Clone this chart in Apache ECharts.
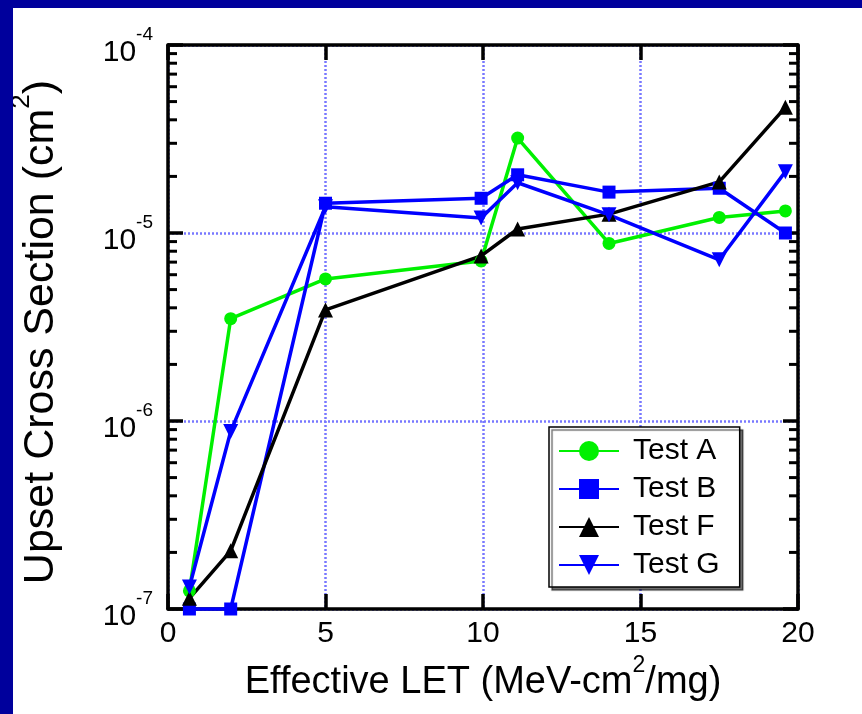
<!DOCTYPE html>
<html>
<head>
<meta charset="utf-8">
<script src="https://cdn.jsdelivr.net/npm/echarts@6/dist/echarts.min.js"></script>
<style>
  html, body { margin: 0; padding: 0; width: 862px; height: 714px; overflow: hidden; background: #00009c; }
  #chart { position: absolute; left: 13px; top: 8px; width: 849px; height: 706px; background: #fff; }
</style>
</head>
<body>
<div id="chart"></div>
<script>
// effective LET (MeV-cm2/mg)
const letValues = [0.68, 1.99, 5, 9.94, 11.1, 14, 17.5, 19.6]
// upset cross section (cm2)
const testA = [1.25e-7, 3.5e-6, 5.7e-6, 7.1e-6, 3.2e-5, 8.8e-6, 1.21e-5, 1.31e-5]
const testB = [1e-7, 1e-7, 1.44e-5, 1.53e-5, 2.04e-5, 1.65e-5, 1.73e-5, 1.0e-5]
const testF = [1.14e-7, 2.04e-7, 3.9e-6, 7.55e-6, 1.05e-5, 1.26e-5, 1.87e-5, 4.66e-5]
const testG = [1.31e-7, 8.8e-7, 1.38e-5, 1.2e-5, 1.85e-5, 1.25e-5, 7.2e-6, 2.12e-5]

const xTicks = [0, 5, 10, 15, 20]
const decades = [-7, -6, -5]
const minorMult = [2, 3, 4, 5, 6, 7, 8, 9]

const FONT = '"Liberation Sans", Arial, Helvetica, sans-serif'
const gridLine = { show: true, lineStyle: { color: '#7878ff', width: 2.5, type: [2, 2] } }

const pairs = ys => letValues.map((x, i) => [x, ys[i]])

const minorData = []
decades.forEach(d => minorMult.forEach(m => minorData.push([xTicks[0], m * Math.pow(10, d)])))

function minorTick(params, api) {
  const l = api.coord([xTicks[0], api.value(1)])
  const r = api.coord([xTicks[xTicks.length - 1], api.value(1)])
  const style = { stroke: '#000', lineWidth: 3 }
  return {
    type: 'group',
    children: [
      { type: 'line', shape: { x1: l[0], y1: l[1], x2: l[0] + 9, y2: l[1] }, style },
      { type: 'line', shape: { x1: r[0] - 9, y1: r[1], x2: r[0], y2: r[1] }, style }
    ]
  }
}

function lineSeries(name, ys, color, symbol, size, rotate) {
  return {
    name,
    type: 'line',
    data: pairs(ys),
    symbol,
    symbolSize: size,
    symbolRotate: rotate || 0,
    showAllSymbol: true,
    clip: false,
    lineStyle: { color, width: 3.5 },
    itemStyle: { color, borderWidth: 0 },
    emphasis: { disabled: true },
    animation: false
  }
}

const chart = echarts.init(document.getElementById('chart'))
const axisCommon = {
  axisLine: { show: true, onZero: false, lineStyle: { color: '#000', width: 3.5 } },
  axisTick: { show: true, inside: true, length: 15, lineStyle: { color: '#000', width: 3.5 } }
}

chart.setOption({
  backgroundColor: '#fff',
  textStyle: { fontFamily: FONT },
  grid: { left: 155, right: 64, top: 37, bottom: 105, outerBoundsMode: 'none', containLabel: false },
  legend: {
    data: ['Test A', 'Test B', 'Test F', 'Test G'],
    orient: 'vertical',
    left: 536,
    top: 419,
    itemWidth: 60,
    itemHeight: 25,
    itemGap: 8,
    padding: [9, 20, 7, 9],
    selectedMode: false,
    backgroundColor: '#fff',
    borderColor: '#000',
    borderWidth: 1.5,
    borderRadius: 0,
    shadowColor: 'rgba(0,0,0,0.55)',
    shadowOffsetX: 3,
    shadowOffsetY: 3,
    shadowBlur: 1,
    textStyle: { fontSize: 30, color: '#000', fontFamily: FONT, padding: [0, 0, 0, 9] }
  },
  xAxis: [
    Object.assign({
      type: 'value',
      position: 'bottom',
      min: 0,
      max: 20,
      interval: 5,
      name: '{t|Effective LET (MeV-cm}{s|2}{t|/mg)}',
      nameLocation: 'middle',
      nameGap: 44,
      nameTextStyle: {
        rich: {
          t: { fontSize: 38, fontFamily: FONT, color: '#000', lineHeight: 48, verticalAlign: 'bottom' },
          s: { fontSize: 23, fontFamily: FONT, color: '#000', lineHeight: 48, verticalAlign: 'top' }
        }
      },
      axisLabel: { fontSize: 30, color: '#000', margin: 10, fontFamily: FONT },
      splitLine: gridLine
    }, axisCommon),
    Object.assign({
      type: 'value',
      position: 'top',
      min: 0,
      max: 20,
      interval: 5,
      axisLabel: { show: false },
      splitLine: { show: false }
    }, axisCommon)
  ],
  yAxis: [
    Object.assign({
      type: 'log',
      logBase: 10,
      position: 'left',
      min: 1e-7,
      max: 1e-4,
      name: '{t|Upset Cross Section (cm}{s|2}{t|)}',
      nameLocation: 'middle',
      nameRotate: 90,
      nameGap: 105,
      nameTextStyle: {
        padding: [0, 10, 0, 0],
        rich: {
          t: { fontSize: 43, fontFamily: FONT, color: '#000', lineHeight: 54, verticalAlign: 'bottom' },
          s: { fontSize: 26, fontFamily: FONT, color: '#000', lineHeight: 54, verticalAlign: 'top' }
        }
      },
      axisLabel: {
        margin: 15,
        formatter: v => '{b|10}{s|' + Math.round(Math.log10(v)) + '}',
        rich: {
          b: { fontSize: 30, fontFamily: FONT, color: '#000', lineHeight: 45, verticalAlign: 'bottom' },
          s: { fontSize: 19, fontFamily: FONT, color: '#000', lineHeight: 45, verticalAlign: 'top', padding: [3, 0, 0, 0] }
        }
      },
      splitLine: gridLine
    }, axisCommon),
    Object.assign({
      type: 'log',
      logBase: 10,
      position: 'right',
      min: 1e-7,
      max: 1e-4,
      axisLabel: { show: false },
      splitLine: { show: false }
    }, axisCommon)
  ],
  series: [
    {
      type: 'custom',
      name: 'minor',
      renderItem: minorTick,
      data: minorData,
      silent: true,
      animation: false,
      z: 5
    },
    lineSeries('Test A', testA, '#00f000', 'circle', 13),
    lineSeries('Test B', testB, '#0000ff', 'rect', 13),
    lineSeries('Test F', testF, '#000000', 'triangle', 15),
    lineSeries('Test G', testG, '#0000ff', 'triangle', 15, 180)
  ]
})
</script>
</body>
</html>
